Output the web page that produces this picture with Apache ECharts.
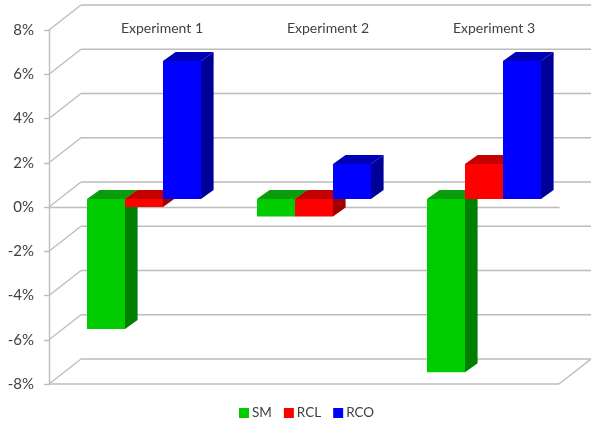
<!DOCTYPE html>
<html>
<head>
<meta charset="utf-8">
<style>
  html, body { margin: 0; padding: 0; background: #fff; }
  #chart { width: 591px; height: 421px; }
</style>
<script src="https://cdn.jsdelivr.net/npm/echarts@6/dist/echarts.min.js"></script>
</head>
<body>
<div id="chart"></div>
<script>
var categories = ['Experiment 1', 'Experiment 2', 'Experiment 3']
var smValues = [-5.88, -0.79, -7.83]
var rclValues = [-0.36, -0.79, 1.58]
var rcoValues = [6.24, 1.58, 6.24]
var wallTicks = [-8, -6, -4, -2, 0, 2, 4, 6, 8]

var fontName = 'Lato, sans-serif'
var textColor = '#404040'
var lineColor = '#bdbdbd'

// offsets of the fake 3d look, in pixels
var wallDx = 32, wallDy = -25
var barDx = 10, barDy = -8
var depthDx = 12.6, depthDy = -9

function poly(points, color) {
  return { type: 'polygon', shape: { points: points }, style: { fill: color } }
}

function barRenderer(seriesIndex, front, top, side) {
  return function (params, api) {
    var slot = api.size([1, 0])[0] * 38 / 170
    var cx = api.coord([api.value(0), 0])[0] + barDx + (seriesIndex - 1) * slot
    var x0 = cx - slot / 2, x1 = cx + slot / 2
    var yZero = api.coord([0, 0])[1] + barDy
    var yVal = api.coord([0, api.value(1)])[1] + barDy
    var yTop = Math.min(yZero, yVal), yBot = Math.max(yZero, yVal)
    return {
      type: 'group',
      children: [
        poly([[x1, yTop], [x1 + depthDx, yTop + depthDy], [x1 + depthDx, yBot + depthDy], [x1, yBot]], side),
        poly([[x0, yTop], [x0 + depthDx, yTop + depthDy], [x1 + depthDx, yTop + depthDy], [x1, yTop]], top),
        poly([[x0, yTop], [x1, yTop], [x1, yBot], [x0, yBot]], front)
      ]
    }
  }
}

function wallRenderer(params, api) {
  var sys = params.coordSys
  var y = api.coord([0, api.value(0)])[1]
  var style = { stroke: lineColor, lineWidth: 1.4, fill: 'none' }
  var children = [
    { type: 'line', shape: { x1: sys.x, y1: y, x2: sys.x + wallDx, y2: y + wallDy }, style: style },
    { type: 'line', shape: { x1: sys.x + wallDx, y1: y + wallDy, x2: sys.x + sys.width + wallDx, y2: y + wallDy }, style: style }
  ]
  // the floor has a front edge and a right edge
  if (api.value(0) === wallTicks[0]) {
    children.push({ type: 'line', shape: { x1: sys.x, y1: y, x2: sys.x + sys.width, y2: y }, style: style })
    children.push({ type: 'line', shape: { x1: sys.x + sys.width, y1: y, x2: sys.x + sys.width + wallDx, y2: y + wallDy }, style: style })
  }
  return { type: 'group', children: children }
}

function barData(values) {
  return values.map(function (v, i) { return [i, v] })
}

var chart = echarts.init(document.getElementById('chart'))

chart.setOption({
  animation: false,
  backgroundColor: '#fff',
  textStyle: { fontFamily: fontName },
  legend: {
    data: ['SM', 'RCL', 'RCO'],
    left: 234,
    top: 401,
    icon: 'rect',
    itemWidth: 10,
    itemHeight: 10,
    itemGap: 12,
    textStyle: { color: textColor, fontSize: 13.5, fontFamily: fontName, padding: [0, 0, 0, -2] }
  },
  grid: [
    { left: 49, top: 30, width: 510, height: 354 },
    // only carries the experiment names, they sit wider apart from the bars
    { left: 79, top: 36, width: 498, height: 10 }
  ],
  xAxis: [{
    type: 'category',
    gridIndex: 0,
    data: categories,
    z: 1,
    axisLine: { onZero: true, lineStyle: { color: lineColor, width: 1.4 } },
    axisTick: { show: false },
    axisLabel: { show: false }
  }, {
    type: 'category',
    gridIndex: 1,
    position: 'top',
    data: categories,
    axisLine: { show: false },
    axisTick: { show: false },
    axisLabel: { color: textColor, fontSize: 14, fontFamily: fontName, margin: 1 }
  }],
  yAxis: [{
    type: 'value',
    gridIndex: 0,
    min: -8,
    max: 8,
    interval: 2,
    splitLine: { show: false },
    axisLine: { show: true, onZero: false, lineStyle: { color: lineColor, width: 1.4 } },
    axisTick: { show: true, length: 5, lineStyle: { color: lineColor, width: 1.4 } },
    axisLabel: { color: textColor, fontSize: 15, fontFamily: fontName, margin: 15, padding: [2, 0, 0, 0], formatter: '{value}%' }
  }, {
    type: 'value',
    gridIndex: 1,
    show: false
  }],
  series: [{
    type: 'custom',
    name: 'wall',
    xAxisIndex: 0,
    yAxisIndex: 0,
    z: 0,
    silent: true,
    coordinateSystem: 'cartesian2d',
    renderItem: wallRenderer,
    encode: { y: 0 },
    data: wallTicks.map(function (t) { return [t] })
  }, {
    type: 'custom',
    name: 'SM',
    xAxisIndex: 0,
    yAxisIndex: 0,
    z: 2,
    itemStyle: { color: '#00cc00' },
    renderItem: barRenderer(0, '#00cc00', '#0a9c0a', '#008000'),
    encode: { x: 0, y: 1 },
    data: barData(smValues)
  }, {
    type: 'custom',
    name: 'RCL',
    xAxisIndex: 0,
    yAxisIndex: 0,
    z: 3,
    itemStyle: { color: '#ff0000' },
    renderItem: barRenderer(1, '#ff0000', '#c40000', '#a00000'),
    encode: { x: 0, y: 1 },
    data: barData(rclValues)
  }, {
    type: 'custom',
    name: 'RCO',
    xAxisIndex: 0,
    yAxisIndex: 0,
    z: 4,
    itemStyle: { color: '#0000ff' },
    renderItem: barRenderer(2, '#0000ff', '#0000b8', '#000099'),
    encode: { x: 0, y: 1 },
    data: barData(rcoValues)
  }]
})
</script>
</body>
</html>
